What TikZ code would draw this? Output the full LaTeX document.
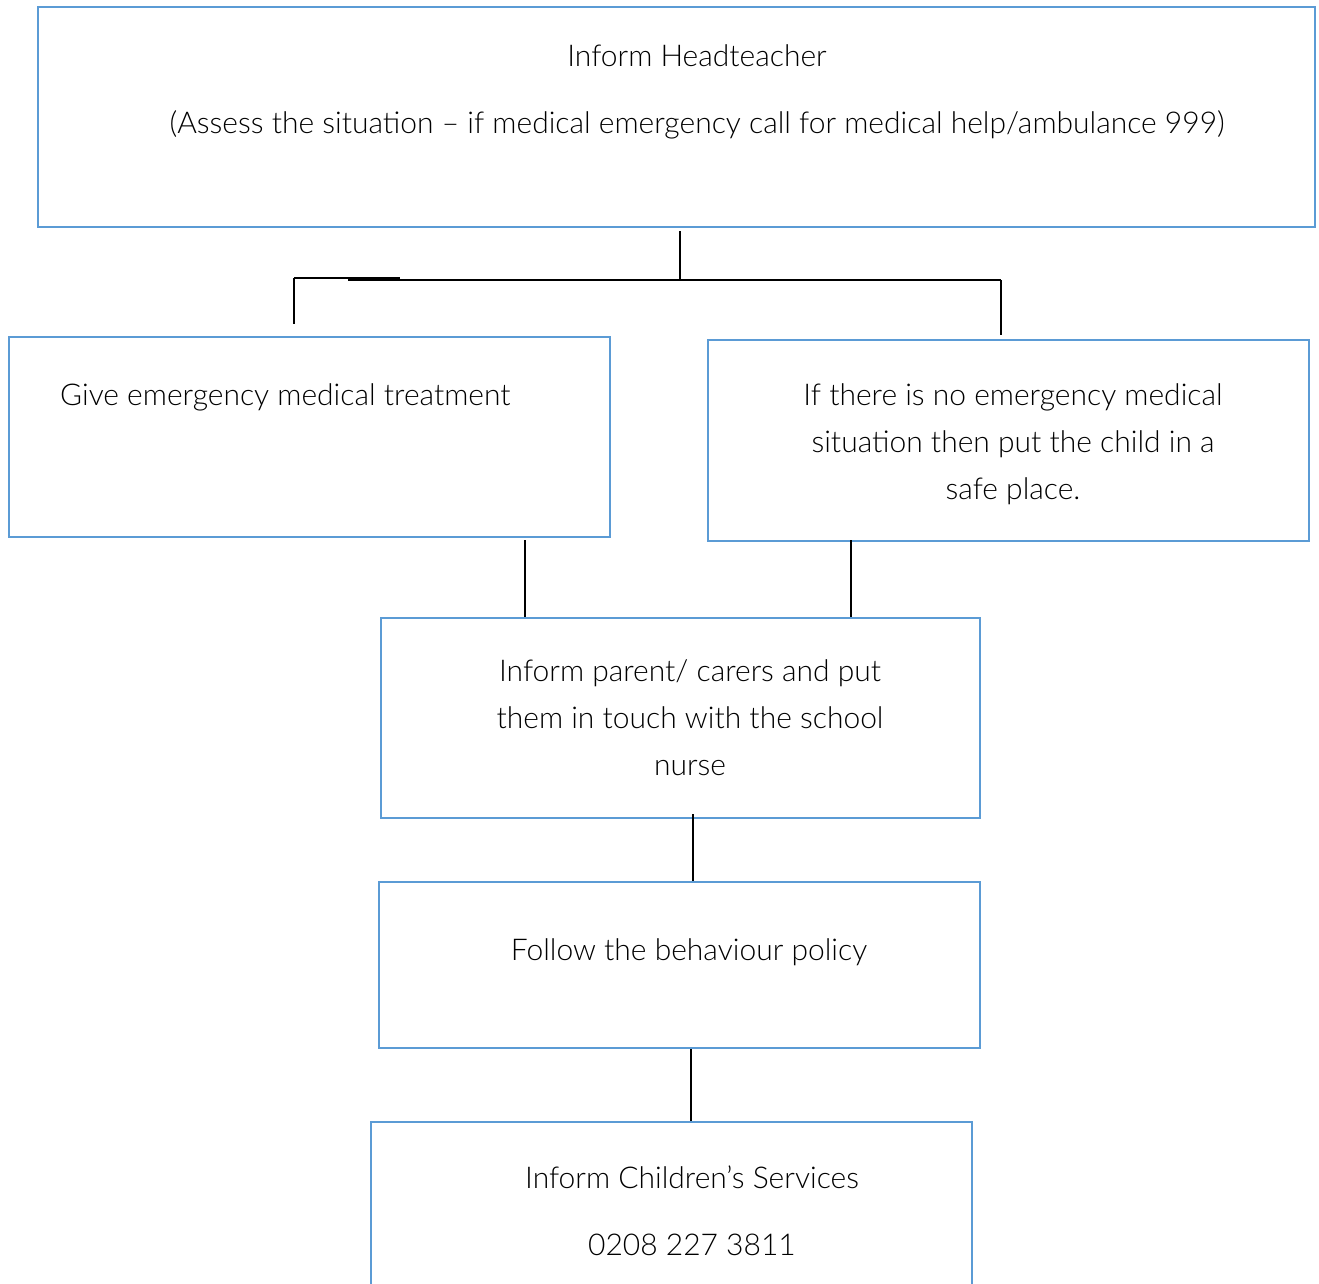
\documentclass[tikz,border=0pt]{standalone}
\usepackage{fontspec}
\setmainfont{Lato}[UprightFont=* Light]
\usetikzlibrary{calc}
\definecolor{boxblue}{HTML}{5B9BD5}
\tikzset{
  flowbox/.style={draw=boxblue, line width=2.6pt, rectangle, inner sep=0pt},
  conn/.style={draw=black, line width=1.2pt},
  txt/.style={align=center, inner sep=0pt, font=\fontsize{30}{47}\selectfont}
}
\begin{document}
\begin{tikzpicture}[x=1pt,y=-1pt]
\useasboundingbox (0,0) rectangle (1319,1284);
\begin{scope}
\clip (0,0) rectangle (1319,1284);
% boxes
\node[flowbox, minimum width=1277pt, minimum height=220pt] (top) at (676.5,117) {};
\node[flowbox, minimum width=601pt, minimum height=200pt] (left) at (309.5,437) {};
\node[flowbox, minimum width=601pt, minimum height=201pt] (right) at (1008.5,440.5) {};
\node[flowbox, minimum width=599pt, minimum height=200pt] (mid) at (680.5,718) {};
\node[flowbox, minimum width=601pt, minimum height=166pt] (follow) at (679.5,965) {};
\node[flowbox, minimum width=601pt, minimum height=240pt] (cs) at (671.5,1242) {};
% texts
\node[txt] (t1) at (697,92) {Inform Headteacher\\[20pt](Assess the situation – if medical emergency call for medical help/ambulance 999)};
\node[txt, anchor=west] (t2) at (60,397) {Give emergency medical treatment};
\node[txt] (t3) at (1013,444) {If there is no emergency medical\\situation then put the child in a\\safe place.};
\node[txt] (t4) at (690,718) {Inform parent/ carers and put\\them in touch with the school\\nurse};
\node[txt] (t5) at (689,952) {Follow the behaviour policy};
\node[txt] (t6) at (692,1211) {Inform Children’s Services\\[20pt]0208 227 3811};
% connectors
\coordinate (jc) at (680,280);
\coordinate (jl) at (294,278);
\coordinate (js) at (400,278);
\coordinate (jm) at (348,280);
\coordinate (jr) at (1001,280);
\coordinate (lend) at (294,324);
\draw[conn] ($(top.south -| jc)+(0,3)$) -- (jc);
\draw[conn] (jl) -- (js);
\draw[conn] (jm) -- (jr);
\draw[conn] (jl) -- (lend);
\draw[conn] (jr) -- ($(right.north -| jr)+(0,-4)$);
\coordinate (xa) at (525,0);
\coordinate (xb) at (851,0);
\coordinate (xc) at (693,0);
\coordinate (xd) at (691,0);
\draw[conn] ($(left.south -| xa)+(0,2)$) -- (mid.north -| xa);
\draw[conn] ($(right.south -| xb)+(0,-2)$) -- (mid.north -| xb);
\draw[conn] ($(mid.south -| xc)+(0,-5)$) -- (follow.north -| xc);
\draw[conn] (follow.south -| xd) -- (cs.north -| xd);
\end{scope}
\end{tikzpicture}
\end{document}
